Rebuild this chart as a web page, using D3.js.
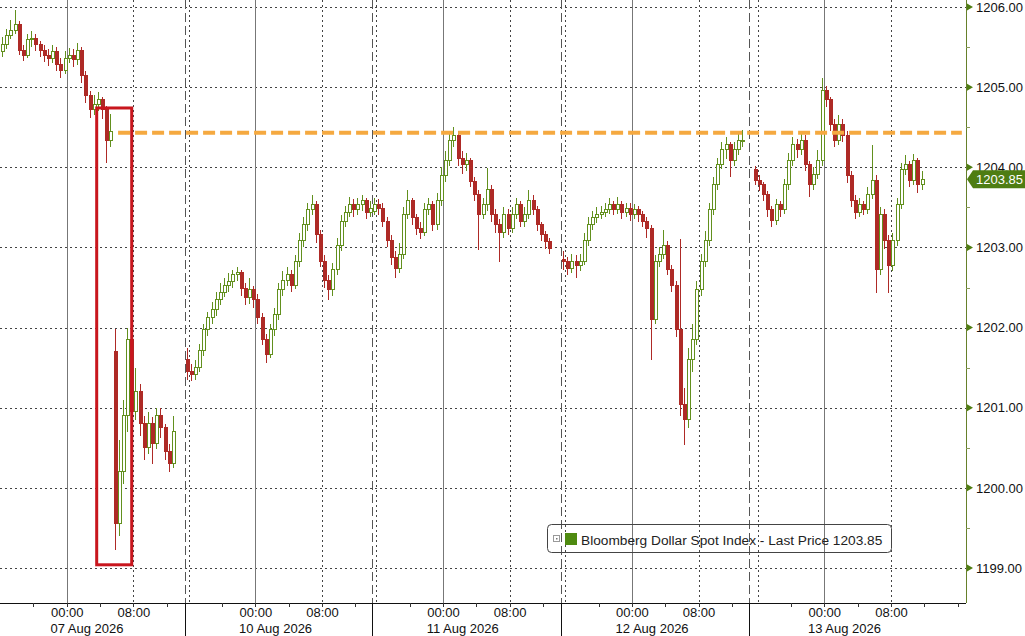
<!DOCTYPE html>
<html><head><meta charset="utf-8">
<script src="https://cdn.jsdelivr.net/npm/d3@7"></script>
<style>body{margin:0;background:#fff}svg{display:block}text{font-family:"Liberation Sans",Arial,sans-serif}</style>
</head><body><svg id="c" width="1025" height="636"></svg>
<script>
// ---------- DATA ----------
const sessionStart = ["2026-08-06T16:00","2026-08-09T15:30","2026-08-10T15:30","2026-08-11T15:30","2026-08-12T14:55"];
const sessionEnd   = ["2026-08-07T14:08","2026-08-10T14:00","2026-08-11T14:10","2026-08-12T14:00","2026-08-13T17:00"];
const firstBar     = ["2026-08-06T16:00","2026-08-09T15:30","2026-08-10T15:30","2026-08-11T15:30","2026-08-12T15:25"];
const sessionOpen  = [1205.45, 1201.60, 1203.45, 1202.85, 1203.97];
const gapOpens = [{session:0, index:27, open:1201.70}];

const close07 = [1205.53,1205.65,1205.71,1205.78,1205.46,1205.40,1205.59,1205.61,1205.53,1205.46,1205.40,1205.36,1205.44,1205.28,1205.21,1205.36,1205.40,1205.34,1205.46,1205.15,1204.90,1204.72,1204.78,1204.84,1204.72,1204.34,1204.45,1199.55,1200.20,1200.90,1201.85,1200.95,1201.20,1200.80,1200.50,1200.80,1200.55,1200.90,1200.75,1200.45,1200.30,1200.70];
const high07  = [1205.62,1205.72,1205.84,1205.96,1205.82,1205.52,1205.66,1205.70,1205.66,1205.58,1205.52,1205.48,1205.52,1205.50,1205.36,1205.45,1205.49,1205.47,1205.55,1205.50,1205.20,1204.95,1204.90,1204.94,1204.88,1204.76,1204.66,1201.98,1200.60,1201.10,1202.00,1201.95,1201.50,1201.30,1200.90,1200.95,1200.88,1201.00,1201.00,1200.80,1200.55,1200.90];
const low07   = [1205.38,1205.47,1205.60,1205.66,1205.40,1205.32,1205.36,1205.50,1205.45,1205.38,1205.31,1205.27,1205.30,1205.20,1205.12,1205.16,1205.30,1205.25,1205.28,1205.05,1204.80,1204.62,1204.65,1204.70,1204.60,1204.05,1204.25,1199.23,1199.40,1200.05,1200.70,1200.80,1200.85,1200.65,1200.35,1200.42,1200.30,1200.48,1200.62,1200.35,1200.20,1200.25];

const close10 = [1201.45,1201.41,1201.50,1201.72,1201.97,1202.12,1202.22,1202.35,1202.44,1202.53,1202.57,1202.66,1202.69,1202.49,1202.37,1202.47,1202.35,1202.12,1201.85,1201.66,1201.97,1202.16,1202.47,1202.59,1202.66,1202.53,1202.82,1203.09,1203.28,1203.47,1203.53,1203.16,1202.82,1202.59,1202.47,1202.72,1203.03,1203.32,1203.44,1203.53,1203.47,1203.53,1203.59,1203.44,1203.49];
const high10  = [1201.75,1201.55,1201.60,1201.80,1202.05,1202.20,1202.32,1202.45,1202.55,1202.62,1202.68,1202.72,1202.75,1202.72,1202.55,1202.62,1202.52,1202.42,1202.18,1201.92,1202.05,1202.25,1202.55,1202.70,1202.75,1202.72,1202.90,1203.18,1203.38,1203.55,1203.65,1203.58,1203.22,1202.90,1202.65,1202.80,1203.12,1203.40,1203.52,1203.63,1203.60,1203.62,1203.66,1203.62,1203.58];
const low10   = [1201.35,1201.33,1201.35,1201.45,1201.65,1201.90,1202.05,1202.15,1202.28,1202.38,1202.45,1202.50,1202.58,1202.40,1202.28,1202.30,1202.25,1202.05,1201.78,1201.56,1201.62,1201.90,1202.10,1202.40,1202.52,1202.45,1202.48,1202.75,1203.00,1203.20,1203.40,1203.05,1202.75,1202.50,1202.35,1202.40,1202.65,1202.95,1203.25,1203.38,1203.38,1203.40,1203.45,1203.35,1203.38];

const close11 = [1203.53,1203.49,1203.32,1203.09,1202.87,1202.74,1202.91,1203.41,1203.59,1203.37,1203.24,1203.19,1203.47,1203.53,1203.28,1203.59,1203.90,1204.09,1204.34,1204.40,1204.11,1204.03,1204.09,1203.82,1203.66,1203.41,1203.53,1203.72,1203.41,1203.28,1203.19,1203.41,1203.24,1203.41,1203.53,1203.32,1203.41,1203.59,1203.47,1203.28,1203.16,1203.07,1202.99];
const high11  = [1203.62,1203.60,1203.55,1203.38,1203.15,1202.95,1203.05,1203.50,1203.72,1203.62,1203.42,1203.32,1203.55,1203.62,1203.58,1203.68,1204.00,1204.20,1204.42,1204.50,1204.45,1204.20,1204.18,1204.12,1203.88,1203.72,1203.62,1203.99,1203.78,1203.48,1203.35,1203.50,1203.48,1203.50,1203.62,1203.58,1203.50,1203.72,1203.65,1203.52,1203.32,1203.20,1203.12];
const low11   = [1203.40,1203.40,1203.25,1203.00,1202.78,1202.62,1202.68,1202.85,1203.35,1203.28,1203.15,1203.10,1203.14,1203.40,1203.20,1203.22,1203.52,1203.82,1204.02,1204.25,1204.02,1203.92,1203.95,1203.75,1203.58,1202.97,1203.35,1203.45,1203.32,1203.18,1202.82,1203.12,1203.15,1203.18,1203.35,1203.25,1203.25,1203.35,1203.40,1203.20,1203.08,1202.98,1202.92];

const close12 = [1202.82,1202.74,1202.82,1202.78,1202.82,1203.09,1203.28,1203.37,1203.41,1203.44,1203.47,1203.53,1203.47,1203.53,1203.44,1203.49,1203.41,1203.47,1203.41,1203.32,1203.24,1202.10,1202.82,1202.91,1203.03,1202.72,1202.53,1201.97,1201.04,1200.85,1201.60,1201.85,1202.47,1202.82,1203.09,1203.47,1203.78,1204.03,1204.22,1204.28,1204.09,1204.22,1204.34,1204.34];
const high12  = [1202.95,1202.88,1202.92,1202.90,1202.92,1203.18,1203.38,1203.45,1203.50,1203.52,1203.55,1203.62,1203.58,1203.63,1203.58,1203.56,1203.55,1203.54,1203.52,1203.46,1203.38,1203.28,1202.90,1203.00,1203.22,1203.08,1202.78,1202.58,1203.10,1201.25,1201.75,1202.05,1202.58,1202.92,1203.20,1203.55,1203.88,1204.12,1204.32,1204.38,1204.32,1204.32,1204.42,1204.46];
const low12   = [1202.72,1202.65,1202.68,1202.62,1202.70,1202.78,1203.02,1203.22,1203.30,1203.35,1203.38,1203.42,1203.40,1203.42,1203.36,1203.38,1203.33,1203.35,1203.32,1203.25,1203.12,1201.60,1202.05,1202.75,1202.85,1202.65,1202.45,1201.88,1200.90,1200.54,1200.75,1201.45,1201.78,1202.40,1202.75,1203.02,1203.40,1203.72,1203.98,1204.10,1203.88,1204.02,1204.15,1204.25];

const close13 = [1203.84,1203.78,1203.66,1203.47,1203.34,1203.53,1203.47,1203.78,1204.09,1204.28,1204.22,1204.34,1204.03,1203.78,1203.91,1204.09,1204.96,1204.84,1204.53,1204.34,1204.53,1204.40,1203.90,1203.59,1203.44,1203.53,1203.47,1203.66,1203.84,1202.72,1203.41,1203.09,1202.78,1203.09,1203.53,1203.97,1204.03,1203.84,1204.09,1203.78,1203.85];
const high13  = [1204.02,1203.90,1203.82,1203.70,1203.52,1203.60,1203.58,1203.85,1204.18,1204.38,1204.35,1204.43,1204.40,1204.08,1204.00,1204.22,1205.11,1205.02,1204.88,1204.60,1204.65,1204.60,1204.45,1203.95,1203.66,1203.62,1203.58,1203.75,1204.28,1203.90,1203.50,1203.48,1203.15,1203.18,1203.62,1204.05,1204.15,1204.08,1204.16,1204.12,1203.95];
const low13   = [1203.78,1203.70,1203.58,1203.38,1203.25,1203.28,1203.38,1203.42,1203.72,1204.02,1204.12,1204.15,1203.95,1203.63,1203.72,1203.85,1204.02,1204.75,1204.45,1204.25,1204.28,1204.32,1203.80,1203.50,1203.35,1203.38,1203.40,1203.42,1203.60,1202.43,1202.65,1202.98,1202.43,1202.70,1203.02,1203.48,1203.90,1203.75,1203.78,1203.68,1203.72];

const sessionCloses = [close07, close10, close11, close12, close13];
const sessionHighs  = [high07, high10, high11, high12, high13];
const sessionLows   = [low07, low10, low11, low12, low13];

const priceTicks = [1199, 1200, 1201, 1202, 1203, 1204, 1205, 1206];
const timeTicks = ["2026-08-07T00:00","2026-08-07T08:00","2026-08-10T00:00","2026-08-10T08:00","2026-08-11T00:00","2026-08-11T08:00","2026-08-12T00:00","2026-08-12T08:00","2026-08-13T00:00","2026-08-13T08:00"];
const dayStarts = ["2026-08-07T00:00","2026-08-10T00:00","2026-08-11T00:00","2026-08-12T00:00","2026-08-13T00:00"];
const afternoonLines = ["2026-08-09T16:00","2026-08-10T16:00","2026-08-11T16:00","2026-08-12T16:00"];
const minorTicks = ["2026-08-06T20:00","2026-08-07T04:00","2026-08-07T12:00","2026-08-09T20:00","2026-08-10T04:00","2026-08-10T12:00","2026-08-10T20:00","2026-08-11T04:00","2026-08-11T12:00","2026-08-11T20:00","2026-08-12T04:00","2026-08-12T12:00","2026-08-12T20:00","2026-08-13T04:00","2026-08-13T12:00","2026-08-13T16:00"];
const lastPrice = 1203.85;
const seriesName = "Bloomberg Dollar Spot Index - Last Price";
const resistanceLevel = 1204.43;
const resistanceFrom = "2026-08-07T06:10", resistanceTo = "2026-08-13T16:30";
const highlightBox = {from:"2026-08-07T03:36", to:"2026-08-07T07:48", top:1204.74, bottom:1199.04};

// ---------- SETUP ----------
const parse = d3.timeParse("%Y-%m-%dT%H:%M");
const HOUR = 3600e3;
const sStart = sessionStart.map(parse), sEnd = sessionEnd.map(parse);
const sDur = sStart.map((s,i)=>(sEnd[i]-s)/HOUR);
const sOffset = sDur.map((d,i)=>d3.sum(sDur.slice(0,i)));
const totalHours = d3.sum(sDur);
function cum(d){
  if (typeof d === "string") d = parse(d);
  let i = sStart.findIndex((s,k)=> d >= s && d <= sEnd[k]);
  if (i < 0) i = d3.bisectRight(sStart, d) - 1;
  return sOffset[i] + (d - sStart[i]) / HOUR;
}
const W = 1025, H = 636, plotR = 966, axisY = 603;
const xc = d3.scaleLinear().domain([0, totalHours]).range([0, plotR]);
const x = d => xc(cum(d));
const y = d3.scaleLinear().domain([1199, 1206]).range([568, 7]);

const svg = d3.select("#c");
const upCol = "#62901e", dnCol = "#ae2a26";

// bars
const bars = [];
sessionCloses.forEach((cl, s) => {
  const t0 = parse(firstBar[s]);
  cl.forEach((c, i) => {
    let o = i === 0 ? sessionOpen[s] : cl[i-1];
    const g = gapOpens.find(g => g.session === s && g.index === i);
    if (g) o = g.open;
    bars.push({t: new Date(+t0 + i*30*60e3 + 15*60e3), o, h: sessionHighs[s][i], l: sessionLows[s][i], c});
  });
});

// ---------- GRID ----------
const grid = svg.append("g");
grid.selectAll("line.h").data(priceTicks).join("line")
  .attr("x1", 0).attr("x2", plotR).attr("y1", d=>Math.round(y(d))+0.5).attr("y2", d=>Math.round(y(d))+0.5)
  .attr("stroke", "#444").attr("stroke-dasharray", "2,3");
grid.selectAll("line.d").data(dayStarts).join("line")
  .attr("x1", d=>Math.round(x(d))+0.5).attr("x2", d=>Math.round(x(d))+0.5).attr("y1", 0).attr("y2", axisY)
  .attr("stroke", "#777");
grid.selectAll("line.e").data(timeTicks.filter(t=>!dayStarts.includes(t)).concat(afternoonLines)).join("line")
  .attr("x1", d=>Math.round(x(d))+0.5).attr("x2", d=>Math.round(x(d))+0.5).attr("y1", 0).attr("y2", axisY)
  .attr("stroke", "#444").attr("stroke-dasharray", "2,3");
grid.selectAll("line.s").data(sOffset.slice(1)).join("line")
  .attr("x1", d=>Math.round(xc(d))+0.5).attr("x2", d=>Math.round(xc(d))+0.5).attr("y1", 0).attr("y2", axisY)
  .attr("stroke", "#555").attr("stroke-dasharray", "9,4");

// ---------- CANDLES ----------
const cg = svg.append("g").attr("shape-rendering", "crispEdges");
const cs = cg.selectAll("g").data(bars).join("g");
cs.append("line")
  .attr("x1", d=>Math.round(x(d.t))+0.5).attr("x2", d=>Math.round(x(d.t))+0.5)
  .attr("y1", d=>y(d.h)).attr("y2", d=>y(d.l))
  .attr("stroke", d=> d.c >= d.o ? upCol : dnCol);
cs.append("rect")
  .attr("x", d=>Math.round(x(d.t)) - 1 + 0.5)
  .attr("y", d=>y(Math.max(d.o,d.c)))
  .attr("width", 3)
  .attr("height", d=>Math.max(1, Math.abs(y(d.o)-y(d.c))))
  .attr("fill", d=> d.c >= d.o ? "#fff" : dnCol)
  .attr("stroke", d=> d.c >= d.o ? upCol : dnCol);

// ---------- ANNOTATIONS ----------
svg.append("line")
  .attr("x1", x(resistanceFrom)).attr("x2", x(resistanceTo))
  .attr("y1", y(resistanceLevel)).attr("y2", y(resistanceLevel))
  .attr("stroke", "#f5a940").attr("stroke-width", 4).attr("stroke-dasharray", "12,5");
svg.append("rect")
  .attr("x", x(highlightBox.from)).attr("y", y(highlightBox.top))
  .attr("width", x(highlightBox.to) - x(highlightBox.from))
  .attr("height", y(highlightBox.bottom) - y(highlightBox.top))
  .attr("fill", "none").attr("stroke", "#c8161d").attr("stroke-width", 3);

// ---------- AXES ----------
const xAxis = svg.append("g").attr("transform", `translate(0,${axisY})`);
xAxis.append("line").attr("x1", 0).attr("x2", plotR).attr("y1", 0.5).attr("y2", 0.5).attr("stroke", "#111");
xAxis.selectAll("line.m").data(minorTicks.concat(timeTicks)).join("line")
  .attr("x1", d=>Math.round(x(d))+0.5).attr("x2", d=>Math.round(x(d))+0.5).attr("y1", 0).attr("y2", 4).attr("stroke", "#333");
xAxis.selectAll("line.sep").data(sOffset.slice(1)).join("line")
  .attr("x1", d=>Math.round(xc(d))+0.5).attr("x2", d=>Math.round(xc(d))+0.5).attr("y1", 0).attr("y2", H-axisY).attr("stroke", "#111");
const ax = d3.axisBottom(xc).tickValues(timeTicks.map(cum)).tickFormat((d,i)=>d3.timeFormat("%H:%M")(parse(timeTicks[i]))).tickSize(0).tickPadding(5);
const axG = svg.append("g").attr("transform", `translate(0,${axisY})`).call(ax);
axG.select(".domain").remove();
axG.selectAll("text").attr("font-size", 13).attr("fill", "#111").attr("font-family", '"Liberation Sans",Arial,sans-serif');
const hm = axG.select("text").node().getComputedTextLength();
svg.append("g").selectAll("text").data(dayStarts).join("text")
  .attr("x", d=>x(d) - hm/2).attr("y", 633)
  .attr("font-size", 13).attr("fill", "#111")
  .text(d=>d3.timeFormat("%d %b %Y")(parse(d)));

const yAxis = svg.append("g").attr("transform", `translate(${plotR},0)`);
yAxis.append("line").attr("x1", 0.5).attr("x2", 0.5).attr("y1", 0).attr("y2", axisY).attr("stroke", "#66802a");
const minorY = priceTicks.slice(0,-1).map((p,i)=>(p+priceTicks[i+1])/2);
yAxis.selectAll("line.mn").data(minorY).join("line")
  .attr("x1", 0).attr("x2", 4).attr("y1", d=>Math.round(y(d))+0.5).attr("y2", d=>Math.round(y(d))+0.5).attr("stroke", "#8a9a5a");
yAxis.selectAll("path.tri").data(priceTicks).join("path")
  .attr("d", d=>`M1,${y(d)-3.5}L7,${y(d)}L1,${y(d)+3.5}Z`).attr("fill", "#4e7d12");
const ra = d3.axisRight(y).tickValues(priceTicks).tickFormat(d3.format(".2f")).tickSize(0).tickPadding(10);
const raG = svg.append("g").attr("transform", `translate(${plotR},0)`).call(ra);
raG.select(".domain").remove();
raG.selectAll("text").attr("font-size", 13).attr("fill", "#111").attr("font-family", '"Liberation Sans",Arial,sans-serif');

// last price tag (covers the 1204.00 label as in the original)
const ly = y(lastPrice);
svg.append("path")
  .attr("d", `M${plotR+1},${ly}L${plotR+7},${ly-9}L${W},${ly-9}L${W},${ly+9}L${plotR+7},${ly+9}Z`)
  .attr("fill", "#4e7d12");
svg.append("text").attr("x", plotR+10).attr("y", ly+4.5).attr("font-size", 13).attr("fill", "#fff")
  .text(d3.format(".2f")(lastPrice));

// ---------- LEGEND ----------
const lg = svg.append("g");
lg.append("rect").attr("x", 547.5).attr("y", 524.5).attr("width", 344).attr("height", 28).attr("rx", 4)
  .attr("fill", "none").attr("stroke", "#444");
lg.append("rect").attr("x", 553.5).attr("y", 535.5).attr("width", 6).attr("height", 6).attr("fill", "#fff").attr("stroke", "#999");
lg.append("rect").attr("x", 556).attr("y", 538).attr("width", 1.5).attr("height", 1.5).attr("fill", "#777");
lg.append("rect").attr("x", 565).attr("y", 533).attr("width", 12).attr("height", 12).attr("fill", "#4e8a10");
lg.append("text").attr("x", 581).attr("y", 544.5).attr("font-size", 13.7).attr("fill", "#222")
  .text(`${seriesName} ${d3.format(".2f")(lastPrice)}`);
</script></body></html>
